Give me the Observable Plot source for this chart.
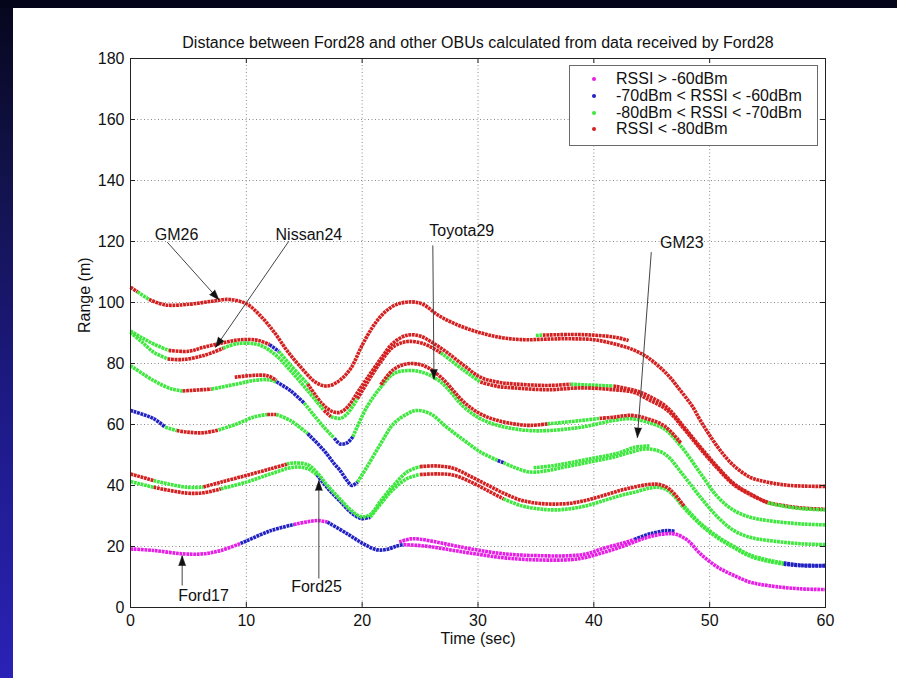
<!DOCTYPE html>
<html><head><meta charset="utf-8">
<script src="https://cdn.jsdelivr.net/npm/d3@7"></script>
<script src="https://cdn.jsdelivr.net/npm/@observablehq/plot@0.6"></script>
<style>
html,body{margin:0;padding:0;}
body{width:897px;height:678px;overflow:hidden;position:relative;
  background:linear-gradient(to bottom,#06061c 0%,#12124a 25%,#1d1a86 60%,#2a22b6 100%);
  font-family:"Liberation Sans",Arial,sans-serif;}
#topband{position:absolute;left:0;top:0;width:897px;height:8px;background:#04041a;}
#sheet{position:absolute;left:13px;top:8px;width:884px;height:670px;background:#fff;}
#legend{position:absolute;left:556px;top:57px;width:247px;height:79px;border:1px solid #6a6a6a;background:#fff;font-size:16px;color:#111;}
.lrow{position:absolute;left:0;height:18px;line-height:18px;white-space:nowrap;}
.ldot{position:absolute;left:22px;top:7px;width:4px;height:4px;border-radius:2px;}
.ltxt{position:absolute;left:46px;top:0;}
</style>
</head><body>
<div id="topband"></div>
<div id="sheet"><div id="chart"></div><div id="legend"></div></div>
<script>
// ---------- data ----------
const title = "Distance between Ford28 and other OBUs calculated from data received by Ford28";
const xLabel = "Time (sec)";
const yLabel = "Range (m)";
const xTicks = [0, 10, 20, 30, 40, 50, 60];
const yTicks = [0, 20, 40, 60, 80, 100, 120, 140, 160, 180];

const rssiCodes = ["m", "b", "g", "r"];
const rssiLabels = ["RSSI > -60dBm", "-70dBm < RSSI < -60dBm", "-80dBm < RSSI < -70dBm", "RSSI < -80dBm"];
const rssiColors = ["#e61ee6", "#2222c4", "#3ee83e", "#d42020"];

// [time s, range m, RSSI class from this point on]
const gm26 = [[0,105,"r"],[0.6,103.5,"g"],[1.6,101,"r"],[3,99.2],[5,99.4],[7,100.4],[8.5,101],[10,99.6],[11.2,95.7],[12.4,90.3],[13.5,84.3],[14.7,78.8],[16,73.8],[17,72.6],[18,74.3],[19,78.3],[20,86],[21,92.5],[22,97],[23,99.4],[24.2,100.2],[25.2,99.5],[26.5,96],[28,93],[30,90.3],[32,88.5],[34,87.8],[36,88],[38,88.1],[40,87.8],[41.7,86.5],[43.2,84.8],[44.6,82.1],[46.3,76.6],[47.5,71],[48.5,66],[49.2,61.3],[50.7,52.6],[52,46.8],[53.5,42.7],[55,41.1],[57,40],[60,39.7]];
const gm26b = [[35,89.2,"g"],[35.6,89.3,"r"],[38,89.5],[40,89.3],[42,88.5],[43,87.5]];

const nissanA = [[0,90.6,"g"],[1,88.4],[2,86.4],[3.3,84.3,"r"],[5,84],[6.3,85.3],[8,86.8],[9.5,87.8],[11,87.6],[12,86.2,"b"],[12.8,84,"g"],[13.8,79.5],[15.3,73.3,"r"],[16.5,67],[17.4,64.3],[18.1,64],[18.8,66],[19.6,70.5],[20.4,75],[21.6,81.5],[22.7,86.8],[23.9,89.3],[25,89],[26,87],[27.3,83.7],[28.8,79.3],[30.2,75.5],[31.7,73.9],[33.1,73.3],[36,72.8],[38,73.2,"g"],[41.7,72.6,"r"],[43.5,71.2],[44.6,69.6],[46.3,65.7],[47.8,59.1],[49.2,52.6],[50.7,46],[52.1,40.6],[53.5,37.3],[55,34.5],[56.4,33.4],[58,32.6],[60,32.2]];
const nissanB = [[0,90.2,"g"],[1,87],[2,83.7],[3.2,81.5,"r"],[4.5,81.3],[6.3,82.6],[8,85,"g"],[9.2,86.5],[11,86.2],[12.4,83.2],[13.8,77.7],[15.3,71.1],[16.7,64.6,"r"],[17.3,62.6,"g"],[18.1,62],[18.7,63.5],[19.6,68.5,"r"],[20.4,73.5],[21.6,80.5],[22.7,85.5],[23.9,87.2],[25.3,86.5],[26.8,83.5,"g"],[28.8,77.7],[30.2,73.9,"r"],[31.7,72.5],[33.1,72],[36,71.4],[38.9,72],[41.7,71.4],[43.5,70.5],[44.6,68.4],[46.3,64.8],[47.8,58.5],[49.2,52],[50.7,45.5],[52.1,40.2],[53.5,37],[55,34.3,"g"],[56.4,33.2],[58,32.4],[60,32]];

const toyotaA = [[0,79.3,"g"],[2,74.4],[3.5,71.7],[4.5,71,"r"],[7,71.6,"g"],[9.2,73.3],[10.6,74.4],[11.8,74.7],[12.6,74,"b"],[13.8,71.1],[15,67,"g"],[16.7,59.1],[17.6,55.5,"b"],[18.1,53.6],[18.7,54],[19.2,56,"g"],[20.4,65.7],[21.6,72.2],[22.7,76.6],[23.9,77.7],[25.3,77],[26.8,73.9],[28.8,65.7],[30.2,61.9],[31.7,59.7],[33.1,58.6],[34.5,58],[36,58],[38.9,59.1],[41.7,61.3],[43.2,61.9],[44.6,60.8],[46.1,58.5],[47.5,53],[49.2,44],[50.7,36.2],[52.1,31.8],[53.5,29.6],[55,28.5],[57.9,27.4],[60,27.1]];
const toyotaB1 = [[9,75.5,"r"],[10.6,76.1],[11.8,76],[12.6,74.5]];
const toyotaB2 = [[21.6,73,"r"],[22.7,78],[23.9,79.9],[25.3,79.3],[26.8,75.5],[28.8,67.3],[30.2,63.5],[31.7,61.3],[33.1,60.2],[34.5,59.7],[36,60.2,"g"],[38.9,61.3],[40.5,62,"r"],[41.7,62.4],[43.2,63],[44.6,61.9],[46.1,59.5],[47.5,54]];

const gm23 = [[0,64.6,"b"],[2,61.9],[3,59.1,"g"],[4,58,"r"],[4.9,57.5],[6.3,57.3],[7.6,58.2,"g"],[9.2,60.2],[10.6,62.4],[11.8,63.3,"r"],[12.6,63.3,"g"],[13.8,61.3],[15.3,57,"b"],[16.7,51.5],[17.6,47.1],[18.1,44.9],[18.7,41.6],[19.1,40],[19.6,41.1,"g"],[20.4,46],[21.6,53.7],[22.7,60.2],[23.9,63.5],[24.7,64.6],[25.9,63.5],[27.3,59.1],[28.8,54.8],[30.2,51],[31.7,48.2,"b"],[32.2,47.5,"g"],[33.1,46],[34.5,44.4],[36,44.9],[37.4,46],[38.9,47.1],[40.3,48.2],[41.7,49.3],[43.2,50.9],[44.6,52],[46.1,50.4],[47.8,43],[49.2,36.2],[50.7,29.6],[52.1,25.2],[53.5,23],[55,22],[57.9,20.9],[60,20.6]];
const gm23b = [[34.8,45.8,"g"],[36.5,46.5],[38,47.5],[40,49],[42,50.5],[43.5,52.5],[44.8,53]];

const ford25A = [[0,43.8,"r"],[2,41.6,"g"],[4.9,39.4],[6.3,39.5,"r"],[7.8,41.1],[10,43.3],[12.1,45.5],[13.5,47,"g"],[14.1,47.4],[15.3,46.8],[16.1,44.2],[17,40],[18.1,35.5],[19,32],[19.9,29.8],[20.7,30.5],[21.6,35],[22.7,40],[23.9,44.5],[25,46.2,"r"],[26.5,46.4],[27.9,45.6],[29.4,42.9],[30.8,40.2],[32.2,37.5],[33.7,35.2],[35.1,34.2],[36.6,33.9],[38,34.2],[39.4,35.2],[40.9,36.8],[42.3,38.4],[43.5,39.5],[44.9,40.4],[45.8,40.2],[46.6,38.6],[47.8,33.2,"g"],[49.2,27.6],[50.7,23.2],[52.1,20],[53.5,17.2],[55,15.6],[56.4,14.6,"b"],[57.9,13.9],[60,13.8]];
const ford25B = [[0,41.3,"g"],[2,39.4,"r"],[4.9,37.5],[6.3,37.6],[7.8,38.9,"g"],[10,41.1],[12.1,43.8],[14.1,46],[15.3,45.5],[16.1,43.5,"b"],[17,39.2],[18.1,34.8],[19,31.3],[19.9,29.2],[20.7,29.6,"g"],[21.6,34],[22.7,38.8],[23.9,42.3],[25,43.6,"r"],[26.5,43.8],[27.9,43.4],[29.4,41.1],[30.8,38.4],[32.2,35.6,"g"],[33.7,33.4],[35.1,32.4],[36.6,32],[38,32.4],[39.4,33.4],[40.9,35.1],[42.3,36.7],[43.5,37.8],[44.9,39.2],[45.8,39.3],[46.6,37.8],[47.8,32.6],[49.2,27.2],[50.7,22.8],[52.1,19.6],[53.5,16.8],[55,15.2],[56.4,14.2,"b"],[57.9,13.7],[60,13.6]];

const ford17A = [[0,19.2,"m"],[2,18.7],[4.5,17.6],[6.3,17.6],[7.8,18.7],[9.5,21,"b"],[10,21.8],[12.1,25.2],[14.1,27.2,"m"],[16.1,28.5],[17,28,"b"],[18.7,24.2],[20.1,20.9],[21.3,18.9],[22.2,19.1],[23,20.2],[23.6,20.6,"m"],[25,20.3],[26.5,19.6],[27.9,18.7],[29.4,17.8],[32.2,16.3],[35.1,15.6],[38,15.7],[39.4,16.5],[40.9,18.1],[42.3,19.8],[43.5,21.5],[44.9,23.3],[46.3,24.2],[47.1,24],[48.1,22],[49.2,17.6],[50.7,13.2],[52.1,10.5],[53.5,8.3],[55,7.2],[57.9,6.1],[60,5.9]];
const ford17B = [[23.2,21.5,"m"],[24.2,22.5],[25,22.4],[26.5,21.4],[27.9,20.3],[29.4,19.2],[32.2,17.6],[35.1,17],[38,17],[39.4,17.6],[40.9,19.5],[42.3,20.9],[43.5,22.3,"b"],[44.9,24.2],[46.3,25.2],[47,25]];

// annotations: label, text position, arrow start, arrow tip (data units)
const annLabels = ["GM26", "Nissan24", "Toyota29", "GM23", "Ford17", "Ford25"];
const annText   = [[3.97,122.3],[15.4,122.3],[28.6,123.6],[47.6,119.7],[6.3,3.9],[16.06,6.6]];
const annStart  = [[3.17,119.8],[13.67,120.1],[26.1,118.7],[44.96,116.5],[4.46,7.2],[16.26,9.5]];
const annTip    = [[7.63,100.9],[7.34,85.3],[26.2,74.8],[43.76,55.7],[4.46,17],[16.26,41.6]];

// ---------- build ----------
const W = 884, H = 670, mL = 117, mR = 72, mT = 50, mB = 71;
const plotW = W - mL - mR, plotH = H - mT - mB;
const kx = plotW / 60, ky = plotH / 180;
const tickX = 5 / kx, tickY = 5 / ky;

function runs(name, pts) {
  const rows = [];
  let run = 0, cur = null;
  for (const [t, v, c] of pts) {
    const col = c || cur;
    if (cur !== null && col !== cur) {
      rows.push({t, v, c: cur, seg: name + "-" + run});
      run++;
    }
    cur = col;
    rows.push({t, v, c: cur, seg: name + "-" + run});
  }
  return rows;
}
const series = {gm26, gm26b, nissanA, nissanB, toyotaA, toyotaB1, toyotaB2, gm23, gm23b, ford25B, ford25A, ford17B, ford17A};
const rows = Object.entries(series).flatMap(([k, p]) => runs(k, p));

const ann = annLabels.map((label, i) => {
  const [sx, sy] = annStart[i], [ex, ey] = annTip[i];
  const dxp = (ex - sx) * kx, dyp = -(ey - sy) * ky;
  return {label, tx: annText[i][0], ty: annText[i][1], sx, sy, ex, ey,
          angle: Math.atan2(dxp, -dyp) * 180 / Math.PI};
});

const font = "Liberation Sans, Arial, sans-serif";
const chart = Plot.plot({
  width: W, height: H,
  marginLeft: mL, marginRight: mR, marginTop: mT, marginBottom: mB,
  style: {fontFamily: font, fontSize: "16px", color: "#111", background: "transparent", overflow: "visible"},
  x: {domain: [0, 60], axis: null},
  y: {domain: [0, 180], axis: null},
  color: {domain: rssiCodes, range: rssiColors},
  marks: [
    Plot.ruleX(xTicks.filter(d => d > 0 && d < 60), {x: d => d, stroke: "#8a8a8a", strokeDasharray: "1,2.5"}),
    Plot.ruleY(yTicks.filter(d => d > 0 && d < 180), {y: d => d, stroke: "#8a8a8a", strokeDasharray: "1,2.5"}),
    Plot.line(rows, {x: "t", y: "v", z: "seg", stroke: "c", curve: "catmull-rom", strokeWidth: 3.6, strokeDasharray: "2.8,0.7", strokeLinecap: "butt"}),
    Plot.frame({stroke: "#222"}),
    Plot.ruleX(xTicks, {x: d => d, y1: 0, y2: tickY, stroke: "#222"}),
    Plot.ruleX(xTicks, {x: d => d, y1: 180 - tickY, y2: 180, stroke: "#222"}),
    Plot.ruleY(yTicks, {y: d => d, x1: 0, x2: tickX, stroke: "#222"}),
    Plot.ruleY(yTicks, {y: d => d, x1: 60 - tickX, x2: 60, stroke: "#222"}),
    Plot.axisX({ticks: xTicks, tickSize: 0, tickPadding: 7, label: null, fontSize: 16, tickFormat: d => String(d)}),
    Plot.axisY({ticks: yTicks, tickSize: 0, tickPadding: 6, label: null, fontSize: 16, tickFormat: d => String(d)}),
    Plot.text([xLabel], {frameAnchor: "bottom", lineAnchor: "middle", dy: 31, text: d => d, fontSize: 16}),
    Plot.text([yLabel], {frameAnchor: "left", lineAnchor: "middle", dx: -46, rotate: -90, text: d => d, fontSize: 16}),
    Plot.text([title], {frameAnchor: "top", lineAnchor: "middle", dy: -16, text: d => d, fontSize: 16}),
    Plot.link(ann, {x1: "sx", y1: "sy", x2: "ex", y2: "ey", stroke: "#444", strokeWidth: 1}),
    Plot.vector(ann, {x: "ex", y: "ey", rotate: "angle", length: 10, r: 3.5, anchor: "end", shape: "spike", fill: "#111", stroke: "#111", strokeWidth: 0.5}),
    Plot.text(ann, {x: "tx", y: "ty", text: "label", fontSize: 16, fill: "#111"})
  ]
});
document.getElementById("chart").appendChild(chart);

// legend
const lg = document.getElementById("legend");
rssiLabels.forEach((lab, i) => {
  const row = document.createElement("div");
  row.className = "lrow";
  row.style.top = (4.3 + i * 16.7) + "px";
  row.style.width = "100%";
  row.innerHTML = `<span class="ldot" style="background:${rssiColors[i]}"></span><span class="ltxt">${lab.replace(/</g,"&lt;").replace(/>/g,"&gt;")}</span>`;
  lg.appendChild(row);
});
</script>
</body></html>
